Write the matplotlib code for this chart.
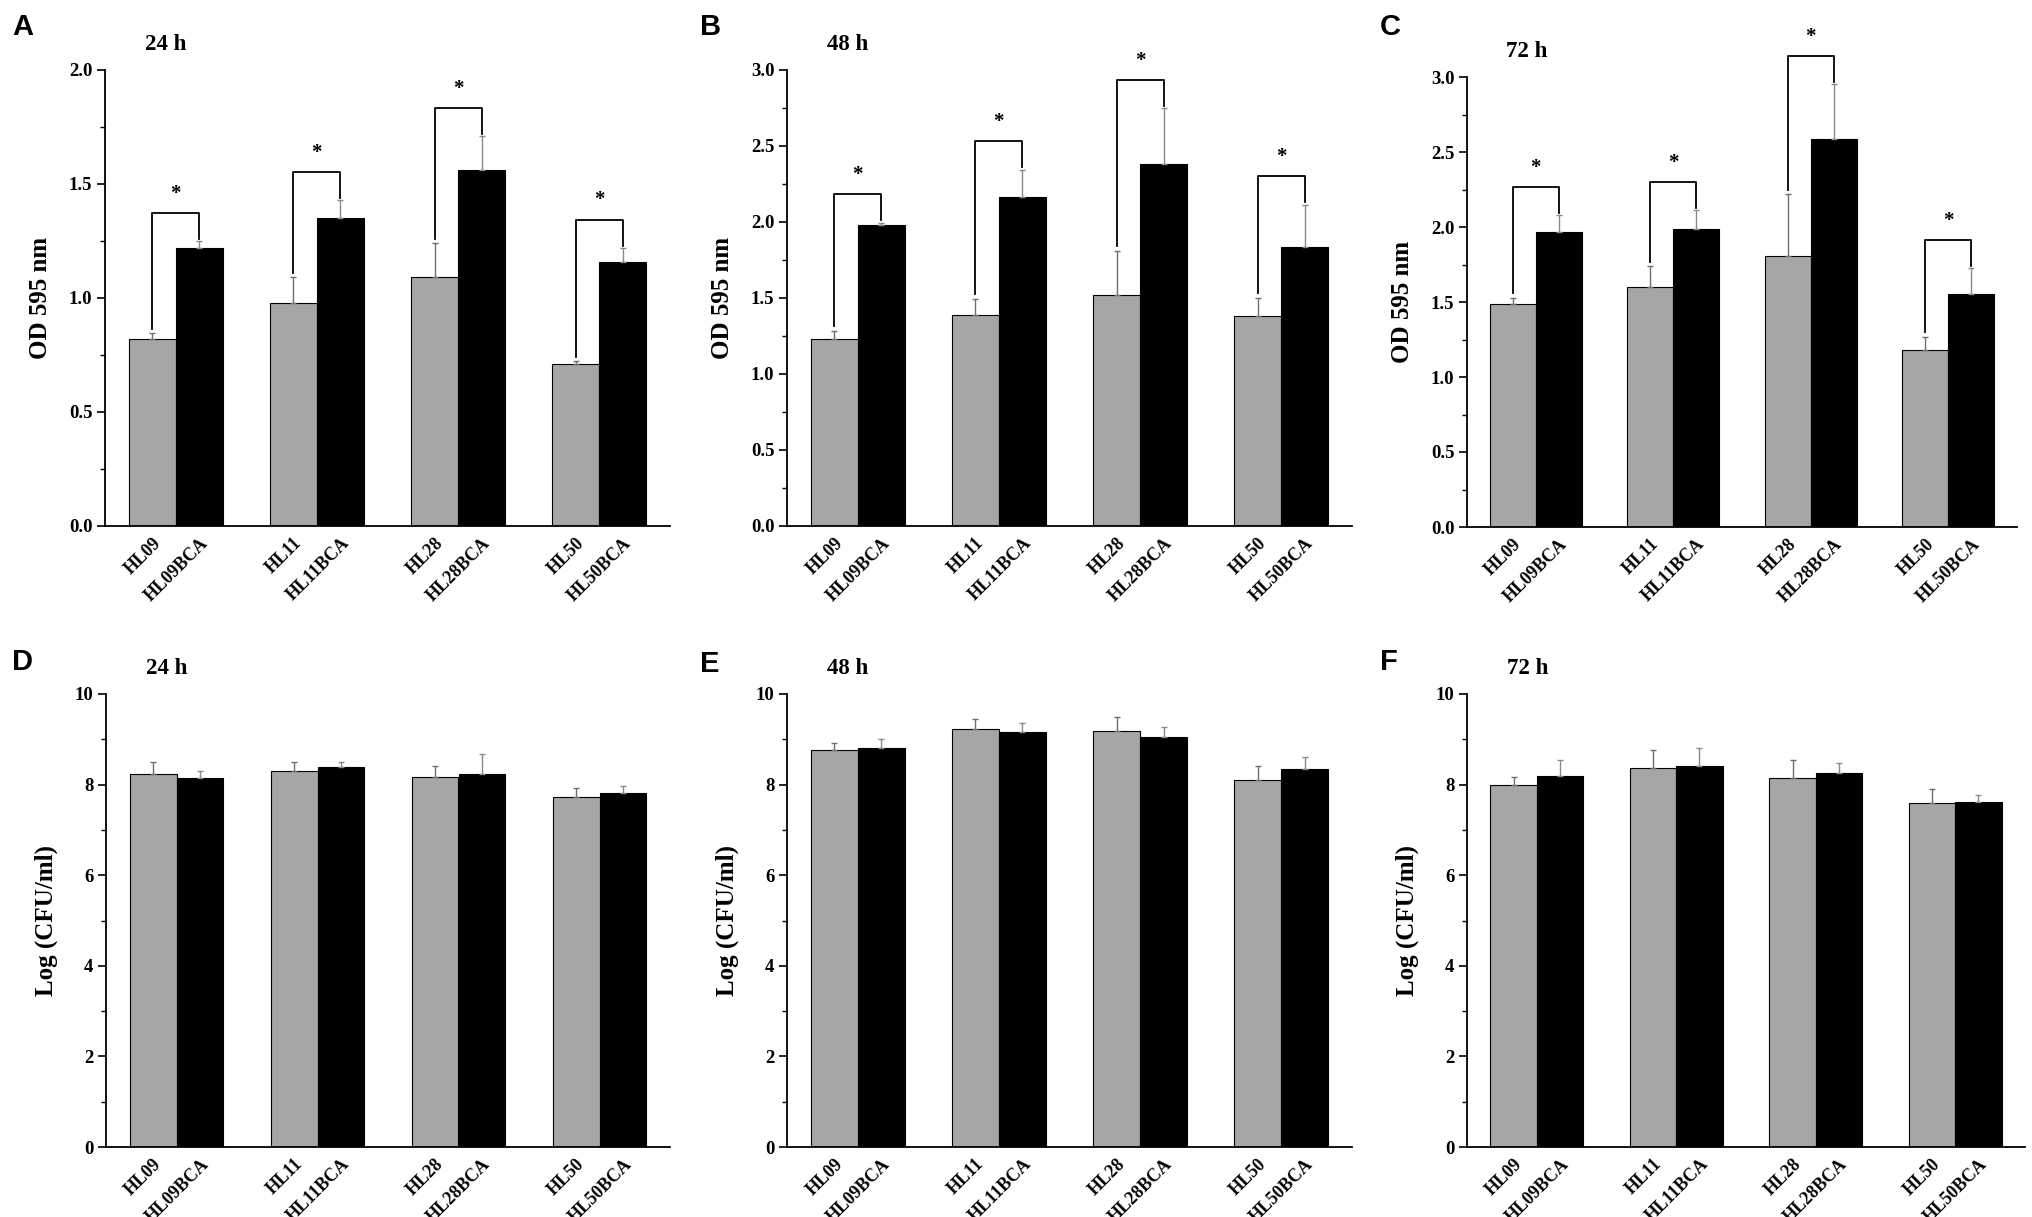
import numpy as np
import matplotlib
matplotlib.use("Agg")
import matplotlib.pyplot as plt
from matplotlib.ticker import MultipleLocator

plt.rcParams['font.family'] = 'Liberation Serif'
plt.rcParams['font.weight'] = 'bold'
plt.rcParams['axes.labelweight'] = 'bold'

strains = ["HL09", "HL11", "HL28", "HL50"]
labels_wt = ["HL09", "HL11", "HL28", "HL50"]
labels_bca = ["HL09BCA", "HL11BCA", "HL28BCA", "HL50BCA"]

# OD 595 nm, biofilm (mean, upper sd)
od24_wt = [0.82, 0.98, 1.09, 0.71]
od24_wt_sd = [0.025, 0.11, 0.15, 0.012]
od24_bca = [1.22, 1.35, 1.56, 1.16]
od24_bca_sd = [0.03, 0.08, 0.15, 0.06]

od48_wt = [1.23, 1.39, 1.52, 1.38]
od48_wt_sd = [0.055, 0.105, 0.29, 0.12]
od48_bca = [1.98, 2.165, 2.38, 1.835]
od48_bca_sd = [0.015, 0.18, 0.37, 0.28]

od72_wt = [1.49, 1.60, 1.81, 1.18]
od72_wt_sd = [0.04, 0.14, 0.41, 0.09]
od72_bca = [1.97, 1.985, 2.585, 1.555]
od72_bca_sd = [0.11, 0.13, 0.37, 0.17]

# Log CFU/ml
cfu24_wt = [8.24, 8.30, 8.16, 7.72]
cfu24_wt_sd = [0.25, 0.19, 0.26, 0.21]
cfu24_bca = [8.14, 8.38, 8.24, 7.82]
cfu24_bca_sd = [0.17, 0.12, 0.44, 0.14]

cfu48_wt = [8.77, 9.22, 9.18, 8.10]
cfu48_wt_sd = [0.14, 0.23, 0.31, 0.32]
cfu48_bca = [8.80, 9.16, 9.06, 8.34]
cfu48_bca_sd = [0.21, 0.19, 0.22, 0.26]

cfu72_wt = [8.00, 8.36, 8.14, 7.59]
cfu72_wt_sd = [0.16, 0.40, 0.40, 0.32]
cfu72_bca = [8.18, 8.41, 8.25, 7.62]
cfu72_bca_sd = [0.36, 0.39, 0.22, 0.14]

W, H = 2033, 1217
fig = plt.figure(figsize=(W / 100, H / 100), dpi=100)


def px_axes(l, t, r, b):
    return fig.add_axes([l / W, 1 - b / H, (r - l) / W, (b - t) / H])


def panel(ax, wt, wt_sd, bca, bca_sd, ymax, major, minor, ylabel, title, stars):
    x = np.arange(len(strains))
    w = 0.333
    ax.bar(x - w / 2, wt, w, color="#a6a6a6", edgecolor="black", linewidth=0.8, zorder=2)
    ax.bar(x + w / 2, bca, w, color="black", edgecolor="black", linewidth=0.8, zorder=2)
    ax.errorbar(x - w / 2, wt, yerr=[np.zeros(4), wt_sd], fmt="none", ecolor="#6e6e6e",
                elinewidth=1.0, capsize=2.5, capthick=1.0, zorder=3)
    ax.errorbar(x + w / 2, bca, yerr=[np.zeros(4), bca_sd], fmt="none", ecolor="#8a8a8a",
                elinewidth=1.0, capsize=2.5, capthick=1.0, zorder=3)
    ax.set_xlim(-0.5, 3.5)
    ax.set_ylim(0, ymax)
    ax.yaxis.set_minor_locator(MultipleLocator(minor))
    ax.spines["top"].set_visible(False)
    ax.spines["right"].set_visible(False)
    for s in ("left", "bottom"):
        ax.spines[s].set_linewidth(1.3)
    ax.tick_params(axis="y", which="major", direction="out", length=6, width=1.2, pad=3)
    ax.tick_params(axis="y", which="minor", direction="out", length=3.5, width=1.0)
    fmt = "{:.1f}" if major < 1 else "{:.0f}"
    ticks = np.arange(0, ymax + major / 2, major)
    ax.set_yticks(ticks)
    ax.set_yticklabels([fmt.format(v) for v in ticks], fontsize=13.5, fontweight="bold")
    ax.set_xticks(np.concatenate([x - w / 2, x + w / 2]))
    ax.set_xticklabels(labels_wt + labels_bca, rotation=45, ha="right", va="top",
                       rotation_mode="anchor", fontsize=13, fontweight="bold")
    ax.tick_params(axis="x", length=0, pad=6)
    ax.set_ylabel(ylabel, fontsize=18, fontweight="bold", labelpad=12)
    ax.text(40 / 565, 1 + 26 / 456, title, transform=ax.transAxes, fontsize=16.5,
            fontweight="bold", ha="left", va="center")
    if stars:
        for i in range(4):
            lt = wt[i] + wt_sd[i]
            rt = bca[i] + bca_sd[i]
            top = max(lt, rt) + 0.062 * ymax
            xs = [x[i] - w / 2, x[i] - w / 2, x[i] + w / 2, x[i] + w / 2]
            ys = [lt + 0.01 * ymax, top, top, rt + 0.005 * ymax]
            ax.plot(xs, ys, color="black", linewidth=1.3, clip_on=False, zorder=4)
            ax.text(x[i], top + 0.02 * ymax, "*", ha="center", va="bottom",
                    fontsize=15, fontweight="bold", clip_on=False)
    return ax


axA = px_axes(105, 70, 670, 526)
axB = px_axes(787, 70, 1352, 526)
axC = px_axes(1467, 77, 2017, 527)
axD = px_axes(106, 694, 670, 1147)
axE = px_axes(787, 694, 1352, 1147)
axF = px_axes(1467, 694, 2025, 1147)

panel(axA, od24_wt, od24_wt_sd, od24_bca, od24_bca_sd, 2.0, 0.5, 0.25, "OD 595 nm", "24 h", True)
panel(axB, od48_wt, od48_wt_sd, od48_bca, od48_bca_sd, 3.0, 0.5, 0.25, "OD 595 nm", "48 h", True)
panel(axC, od72_wt, od72_wt_sd, od72_bca, od72_bca_sd, 3.0, 0.5, 0.25, "OD 595 nm", "72 h", True)
panel(axD, cfu24_wt, cfu24_wt_sd, cfu24_bca, cfu24_bca_sd, 10, 2, 1, "Log (CFU/ml)", "24 h", False)
panel(axE, cfu48_wt, cfu48_wt_sd, cfu48_bca, cfu48_bca_sd, 10, 2, 1, "Log (CFU/ml)", "48 h", False)
panel(axF, cfu72_wt, cfu72_wt_sd, cfu72_bca, cfu72_bca_sd, 10, 2, 1, "Log (CFU/ml)", "72 h", False)

# panel letters
for letter, px, py in [("A", 12, 27), ("B", 700, 27), ("C", 1380, 27),
                       ("D", 12, 662), ("E", 700, 664), ("F", 1380, 662)]:
    fig.text(px / W, 1 - py / H, letter, fontsize=21, fontweight="bold",
             family="Liberation Sans", ha="left", va="center")

fig.savefig("out.png", dpi=100, facecolor="white")
